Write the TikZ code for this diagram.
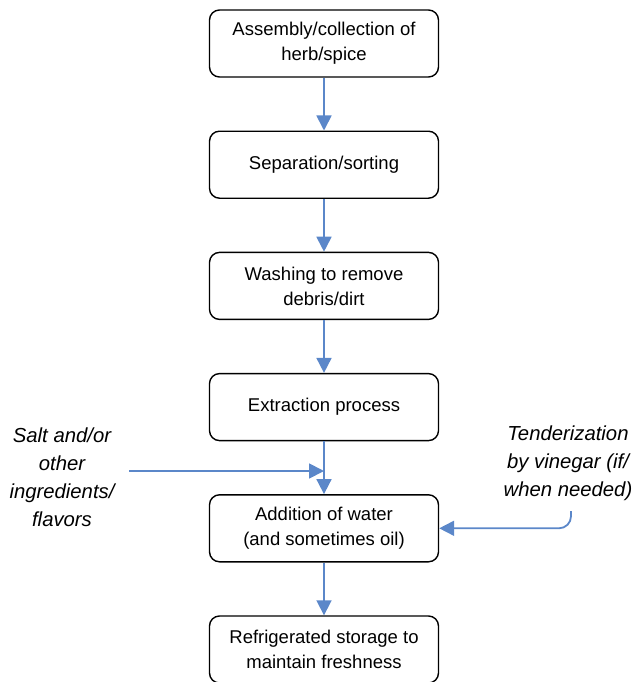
\documentclass[tikz,border=0pt]{standalone}
\usepackage{fontspec}
\setmainfont{Liberation Sans}
\usetikzlibrary{arrows.meta,positioning}
\definecolor{flowblue}{RGB}{91,135,201}
\tikzset{>={Triangle[width=15pt,length=15pt]},
  stepbox/.style={draw,line width=1.4pt,rounded corners=10pt,
    minimum width=229pt,minimum height=67pt,inner sep=0pt,
    align=center,font=\fontsize{18.5}{25}\selectfont},
  sidenote/.style={align=center,inner sep=0pt,
    font=\itshape\fontsize{20.3}{28}\selectfont},
  flow/.style={->,color=flowblue,line width=1.8pt}}

\begin{document}
\begin{tikzpicture}[x=1pt,y=-1pt]
\useasboundingbox (0,0) rectangle (632,682);
\node[stepbox] (collect) at (324,43.5) {Assembly/collection of\\herb/spice};
\node[stepbox,below=52.8pt of collect] (sort) {Separation/sorting};
\node[stepbox,below=52.8pt of sort] (wash) {Washing to remove\\debris/dirt};
\node[stepbox,below=52.8pt of wash] (extract) {Extraction process};
\node[stepbox,below=52.8pt of extract] (water) {Addition of water\\(and sometimes oil)};
\node[stepbox,below=52.8pt of water] (store) {Refrigerated storage to\\maintain freshness};
\node[sidenote] (salt) at (62,477) {Salt and/or\\other\\ingredients/\\flavors};
\node[sidenote] (vinegar) at (568,463) {Tenderization\\by vinegar (if/\\when needed)};
\coordinate (saltin) at (129,471);
\coordinate (vinegarin) at (571,511);
\draw[flow] (collect) -- (sort);
\draw[flow] (sort) -- (wash);
\draw[flow] (wash) -- (extract);
\draw[flow] (extract) -- (water);
\draw[flow] (water) -- (store);
\draw[flow] (saltin) -- (saltin -| extract.south);
\draw[flow,rounded corners=12pt] (vinegarin) |- (water.east);
\end{tikzpicture}
\end{document}
